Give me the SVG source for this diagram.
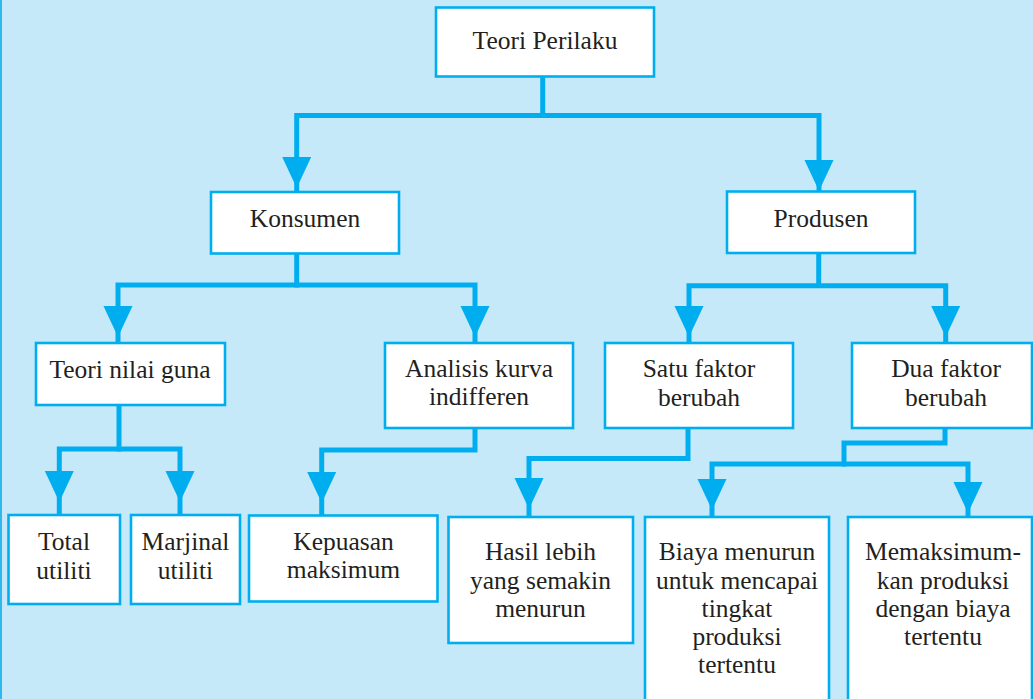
<svg xmlns="http://www.w3.org/2000/svg" xmlns:xlink="http://www.w3.org/1999/xlink" width="1033" height="699" viewBox="0 0 1033 699">
<style>
.bg{fill:#C6E9F9}
.box{fill:#FFFFFF;stroke:#00AEEF;stroke-width:2.6}
.conn{fill:none;stroke:#00AEEF;stroke-width:5;stroke-linejoin:miter;stroke-linecap:butt}
.ah{fill:#00AEEF}
text{font-family:"Liberation Serif","Times New Roman",serif;font-size:25.5px;fill:#231F20;text-anchor:middle}
</style>
<defs>
<path id="ah" d="M-14.5,0 L14.5,0 L0,31 Z"/>
</defs>
<rect class="bg" x="0" y="0" width="1033" height="699"/>
<line x1="1" y1="0" x2="1" y2="699" stroke="#2FB8EE" stroke-width="2"/>

<g id="connectors">
<path class="conn" d="M542.7,77 V118"/>
<path class="conn" d="M296.7,192 V115.5 H819 V191"/>
<path class="conn" d="M296.7,254 V287.5"/>
<path class="conn" d="M118,343 V285 H475 V343"/>
<path class="conn" d="M818.7,253 V288"/>
<path class="conn" d="M689,343 V285.7 H945.7 V343"/>
<path class="conn" d="M119,405 V451.5"/>
<path class="conn" d="M59.3,515 V449 H180 V515"/>
<path class="conn" d="M475,428 V450 H321.7 V515"/>
<path class="conn" d="M688,428 V458.5 H529 V517"/>
<path class="conn" d="M945,428 V443 H844 V466.5"/>
<path class="conn" d="M712,517 V464 H968 V517"/>
<g class="ah">
<use xlink:href="#ah" x="296.7" y="157"/>
<use xlink:href="#ah" x="819" y="160"/>
<use xlink:href="#ah" x="118" y="306"/>
<use xlink:href="#ah" x="475" y="306"/>
<use xlink:href="#ah" x="689" y="306"/>
<use xlink:href="#ah" x="945.7" y="306"/>
<use xlink:href="#ah" x="59.3" y="471"/>
<use xlink:href="#ah" x="180" y="471"/>
<use xlink:href="#ah" x="321.7" y="472"/>
<use xlink:href="#ah" x="529" y="478"/>
<use xlink:href="#ah" x="712" y="479"/>
<use xlink:href="#ah" x="968" y="482"/>
</g>
</g>

<g id="teori-perilaku">
<rect class="box" x="436" y="7.5" width="218" height="69"/>
<text x="545" y="49">Teori Perilaku</text>
</g>
<g id="konsumen">
<rect class="box" x="211" y="192" width="188" height="61.5"/>
<text x="305" y="227">Konsumen</text>
</g>
<g id="produsen">
<rect class="box" x="727" y="191.5" width="188" height="61.5"/>
<text x="821" y="227">Produsen</text>
</g>
<g id="teori-nilai-guna">
<rect class="box" x="36" y="343" width="189" height="62"/>
<text x="130" y="378">Teori nilai guna</text>
</g>
<g id="analisis-kurva">
<rect class="box" x="385" y="343" width="188" height="85"/>
<text x="479" y="377">Analisis kurva</text>
<text x="479" y="405">indifferen</text>
</g>
<g id="satu-faktor">
<rect class="box" x="605" y="343" width="188" height="85"/>
<text x="699" y="377">Satu faktor</text>
<text x="699" y="406">berubah</text>
</g>
<g id="dua-faktor">
<rect class="box" x="852" y="343" width="180" height="85"/>
<text x="946" y="377">Dua faktor</text>
<text x="946" y="406">berubah</text>
</g>
<g id="total-utiliti">
<rect class="box" x="8.5" y="515" width="111.5" height="89"/>
<text x="64" y="550">Total</text>
<text x="64" y="579">utiliti</text>
</g>
<g id="marjinal-utiliti">
<rect class="box" x="131" y="515" width="109" height="89"/>
<text x="185.5" y="550">Marjinal</text>
<text x="185.5" y="579">utiliti</text>
</g>
<g id="kepuasan-maksimum">
<rect class="box" x="249" y="515.5" width="188.5" height="86"/>
<text x="343.5" y="550">Kepuasan</text>
<text x="343.5" y="578">maksimum</text>
</g>
<g id="hasil-lebih">
<rect class="box" x="448.5" y="517" width="184.5" height="126"/>
<text x="540.5" y="560">Hasil lebih</text>
<text x="540.5" y="588.5">yang semakin</text>
<text x="540.5" y="617">menurun</text>
</g>
<g id="biaya-menurun">
<rect class="box" x="645" y="517" width="184" height="190"/>
<text x="737" y="560">Biaya menurun</text>
<text x="737" y="588.5">untuk mencapai</text>
<text x="737" y="617">tingkat</text>
<text x="737" y="645">produksi</text>
<text x="737" y="673">tertentu</text>
</g>
<g id="memaksimumkan">
<rect class="box" x="848" y="517" width="184" height="190"/>
<text x="943" y="560">Memaksimum-</text>
<text x="943" y="588.5">kan produksi</text>
<text x="943" y="617">dengan biaya</text>
<text x="943" y="645">tertentu</text>
</g>
</svg>
